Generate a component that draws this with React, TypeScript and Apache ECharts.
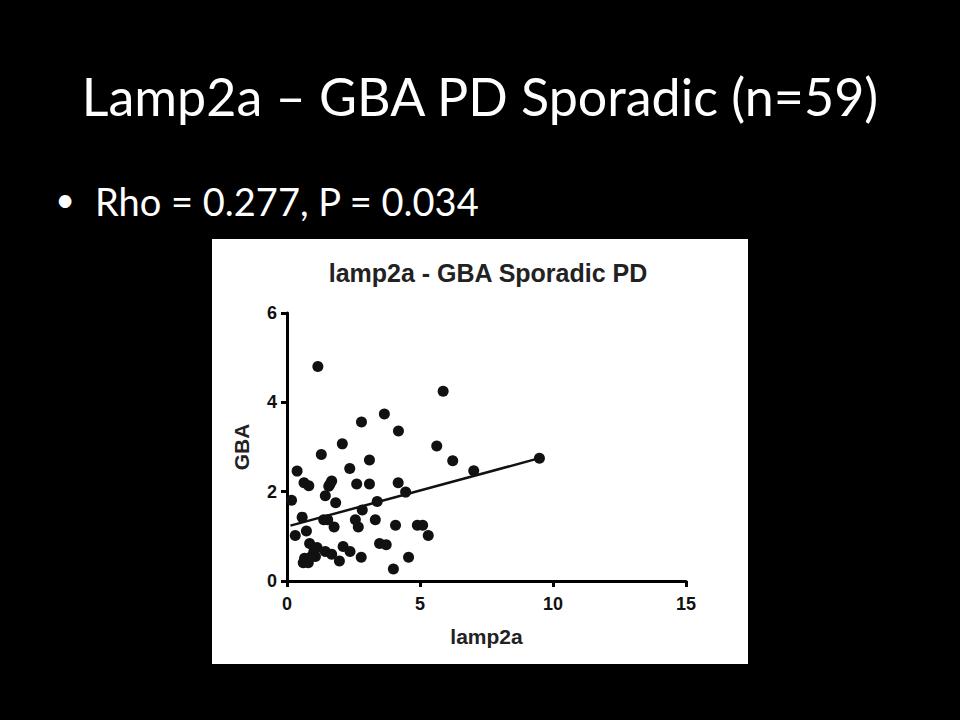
import React, { useEffect, useRef } from "react";
import * as echarts from "echarts";

const slideTitle = "Lamp2a – GBA PD Sporadic (n=59)";
const bulletText = "Rho = 0.277, P = 0.034";
const chartTitle = "lamp2a - GBA Sporadic PD";
const xName = "lamp2a";
const yName = "GBA";

const lamp2a = [
  1.16, 5.87, 3.66, 2.8, 4.19, 2.08, 5.63, 1.29, 3.1, 6.23, 9.49, 7.02, 0.38, 2.36,
  0.64, 0.82, 1.68, 1.57, 1.62, 2.62, 3.1, 4.18, 4.46, 0.17, 1.44, 1.83, 3.39, 2.83,
  0.57, 1.38, 1.53, 2.57, 3.32, 2.68, 1.77, 0.73, 4.08, 4.9, 5.1, 5.31, 0.31, 0.85,
  1.13, 1.01, 1.44, 1.68, 2.11, 2.37, 3.48, 3.73, 2.79, 4.57, 1.97, 0.66, 0.61, 0.8,
  1.07, 4.0, 0.92,
];
const gba = [
  4.8, 4.25, 3.74, 3.56, 3.36, 3.07, 3.02, 2.83, 2.71, 2.69, 2.75, 2.47, 2.46, 2.52,
  2.2, 2.13, 2.24, 2.12, 2.17, 2.17, 2.17, 2.2, 1.99, 1.81, 1.91, 1.75, 1.78, 1.59,
  1.43, 1.37, 1.37, 1.37, 1.37, 1.21, 1.21, 1.12, 1.25, 1.25, 1.25, 1.02, 1.02, 0.84,
  0.75, 0.66, 0.66, 0.6, 0.77, 0.66, 0.84, 0.81, 0.53, 0.53, 0.45, 0.51, 0.41, 0.41,
  0.55, 0.27, 0.55,
];
const fitX = [0.13, 9.49];
const fitY = [1.24, 2.75];

const xTicks = { min: 0, max: 15, interval: 5 };
const yTicks = { min: 0, max: 6, interval: 2 };

export default function App() {
  const ref = useRef<HTMLDivElement>(null);
  useEffect(() => {
    document.body.style.margin = "0";
    const chart = echarts.init(ref.current!, null, { renderer: "svg" });
    const axisFont = { fontFamily: "Liberation Sans", fontWeight: "bold" as const, color: "#111" };
    chart.setOption({
      animation: false,
      backgroundColor: "#000",
      title: {
        text: chartTitle,
        left: 483,
        textAlign: "center",
        top: 255,
        textStyle: { ...axisFont, fontSize: 25, color: "#222" },
      },
      graphic: [
        {
          type: "rect",
          shape: { x: 212, y: 239, width: 536, height: 425 },
          style: { fill: "#fff" },
          z: -10,
        },
        {
          type: "text",
          x: 480,
          y: 96,
          style: {
            text: slideTitle,
            fill: "#fff",
            font: "52px Lato",
            textAlign: "center",
            textVerticalAlign: "middle",
          },
        },
        {
          type: "text",
          x: 65,
          y: 198,
          style: {
            text: "•",
            fill: "#fff",
            font: "34px Lato",
            textAlign: "center",
            textVerticalAlign: "middle",
          },
        },
        {
          type: "text",
          x: 95,
          y: 201,
          style: {
            text: bulletText,
            fill: "#fff",
            font: "38px Lato",
            textAlign: "left",
            textVerticalAlign: "middle",
          },
        },
      ],
      grid: { left: 287, right: 274, top: 313, bottom: 139 },
      xAxis: {
        type: "value",
        ...xTicks,
        name: xName,
        nameLocation: "middle",
        nameGap: 45,
        nameTextStyle: { ...axisFont, fontSize: 21, color: "#222" },
        axisLine: { onZero: false, lineStyle: { color: "#000", width: 3 } },
        axisTick: { show: true, length: 6, lineStyle: { color: "#000", width: 3 } },
        axisLabel: { ...axisFont, fontSize: 18, margin: 14 },
        splitLine: { show: false },
      },
      yAxis: {
        type: "value",
        ...yTicks,
        name: yName,
        nameLocation: "middle",
        nameGap: 35,
        nameRotate: 90,
        nameTextStyle: { ...axisFont, fontSize: 21, color: "#222" },
        axisLine: { show: true, onZero: false, lineStyle: { color: "#000", width: 3 } },
        axisTick: { show: true, length: 6, lineStyle: { color: "#000", width: 3 } },
        axisLabel: { ...axisFont, fontSize: 18, margin: 10 },
        splitLine: { show: false },
      },
      series: [
        {
          type: "scatter",
          data: lamp2a.map((x, i) => [x, gba[i]]),
          symbolSize: 11,
          itemStyle: { color: "#111", opacity: 1 },
          z: 3,
        },
        {
          type: "line",
          data: fitX.map((x, i) => [x, fitY[i]]),
          showSymbol: false,
          lineStyle: { color: "#111", width: 2.5 },
          z: 2,
        },
      ],
    });
    return () => chart.dispose();
  }, []);
  return <div ref={ref} style={{ width: 960, height: 720 }} />;
}
